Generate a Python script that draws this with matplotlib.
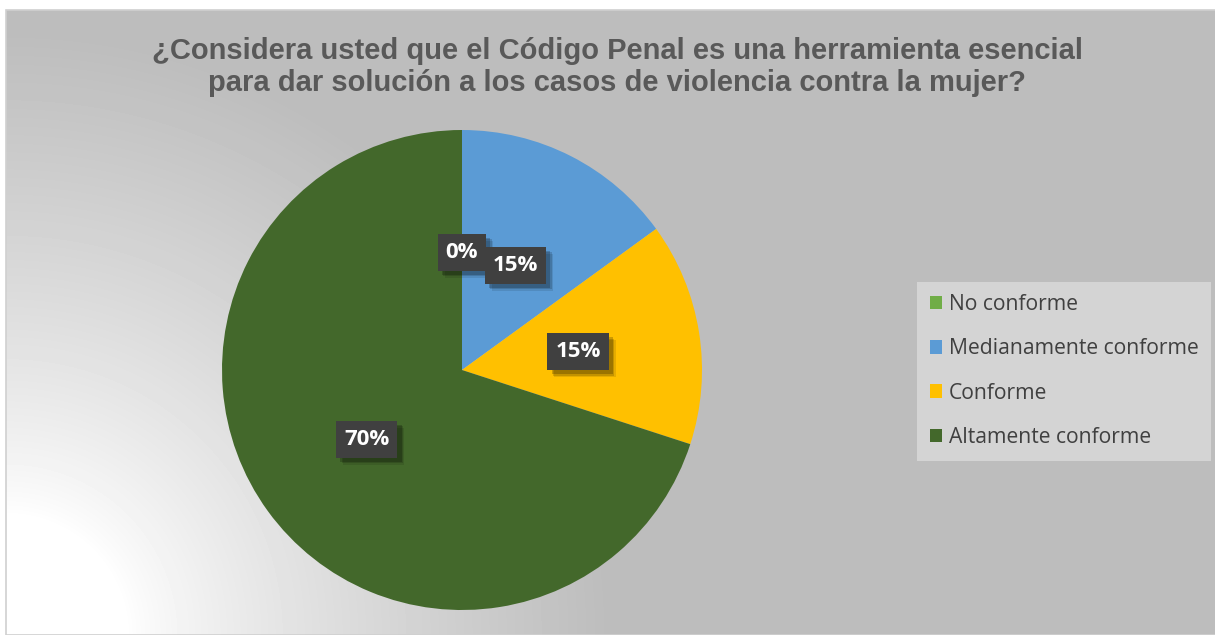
import matplotlib.pyplot as plt
import numpy as np
from matplotlib.patches import Patch, Rectangle
from matplotlib import patheffects as pe

# data
categorias = ['No conforme', 'Medianamente conforme', 'Conforme', 'Altamente conforme']
porcentajes = [0, 15, 15, 70]
colores = ['#70ad47', '#5b9bd5', '#ffc000', '#43682b']
titulo = ('¿Considera usted que el Código Penal es una herramienta esencial\n'
          'para dar solución a los casos de violencia contra la mujer?')

W, H = 1215, 635
fig = plt.figure(figsize=(W / 100, H / 100), dpi=100, facecolor='white')

# chart area background (radial gradient from bottom-left)
bg = fig.add_axes([6 / W, 0, (W - 6) / W, (H - 10) / H], zorder=0)
yy, xx = np.mgrid[0:625, 0:1209]
d = np.hypot(xx, 625 - yy)
t = np.clip((d - 120) / 480, 0, 1) ** 0.8
gris = 1 - t * (1 - 0xbd / 255)
bg.imshow(gris, cmap='gray', vmin=0, vmax=1, aspect='auto', interpolation='bilinear')
bg.set_axis_off()
fig.patches.append(Rectangle((5.5 / W, 0), (W - 5) / W, (H - 9.5) / H, transform=fig.transFigure,
                             fill=False, edgecolor='#d0d0d0', linewidth=1.2, zorder=1))

# pie
cx, cy, r = 462, 370, 240
ax = fig.add_axes([(cx - r) / W, (H - cy - r) / H, 2 * r / W, 2 * r / H], zorder=2)
wedges, textos, autotextos = ax.pie(porcentajes, colors=colores, startangle=90, counterclock=False,
                                    autopct=lambda p: f'{p:.0f}%', pctdistance=0.49,
                                    wedgeprops=dict(linewidth=0))
ax.set_xlim(-1, 1)
ax.set_ylim(-1, 1)
ax.set_aspect('equal')

sombra = [pe.SimplePatchShadow(offset=(5, -5), shadow_rgbFace='black', alpha=0.1),
          pe.SimplePatchShadow(offset=(4, -4), shadow_rgbFace='black', alpha=0.15),
          pe.SimplePatchShadow(offset=(3, -3), shadow_rgbFace='black', alpha=0.2),
          pe.Normal()]
for i, at in enumerate(autotextos):
    at.set_color('white')
    at.set_fontsize(16)
    at.set_fontweight('bold')
    at.set_family('Open Sans')
    at.set_bbox(dict(boxstyle='square,pad=0.36', facecolor='#404040', edgecolor='none'))
    at.get_bbox_patch().set_path_effects(sombra)
    at.set_zorder(5 + i)

fig.text(617 / W, 1 - 67 / H, titulo, ha='center', va='center', fontsize=21, fontweight='bold',
         color='#595959', family='Liberation Sans', linespacing=1.2, zorder=3)

handles = [Patch(facecolor=c, edgecolor='none') for c in colores]
leg = fig.legend(handles, categorias, loc='center left', bbox_to_anchor=(917 / W, 1 - 371 / H),
                 frameon=True, fancybox=False, facecolor='#d4d4d4', edgecolor='none', framealpha=1,
                 prop={'family': 'Open Sans', 'size': 15.2}, labelcolor='#404040',
                 handlelength=0.6, handleheight=0.6, handletextpad=0.3, labelspacing=1.1,
                 borderpad=0.6, borderaxespad=0)
leg.set_zorder(3)

fig.savefig('out.png', dpi=100)
